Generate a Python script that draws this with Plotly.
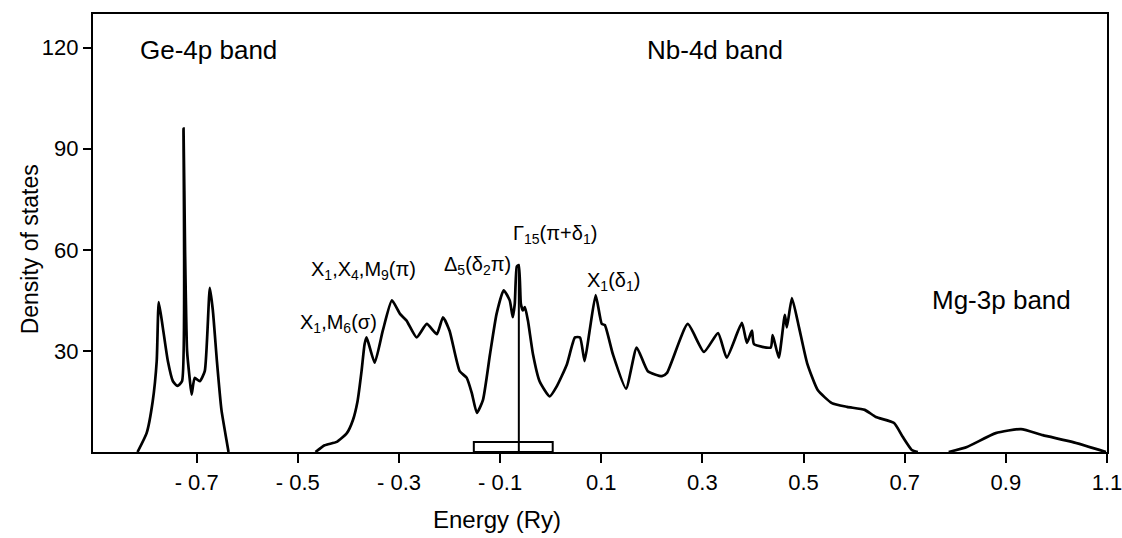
import plotly.graph_objects as go

# ---- data ----
ge_energy = [-0.817, -0.799, -0.787, -0.779, -0.775, -0.767, -0.757, -0.747, -0.738, -0.729,
             -0.726, -0.723, -0.719, -0.714, -0.710, -0.704, -0.694, -0.684, -0.674, -0.668,
             -0.660, -0.651, -0.641, -0.637]
ge_dos = [0, 5.6, 15, 27, 44.5, 37, 27, 21, 19.6, 21,
          96, 60, 30, 22, 17, 22, 21, 24, 48.7, 42,
          27, 12.5, 3.5, 0]

nb_energy = [-0.465, -0.447, -0.423, -0.403, -0.391, -0.382, -0.374, -0.368, -0.364, -0.348,
             -0.332, -0.314, -0.298, -0.285, -0.265, -0.245, -0.225, -0.213, -0.200, -0.180,
             -0.166, -0.156, -0.146, -0.134, -0.120, -0.107, -0.093, -0.081, -0.075, -0.071,
             -0.067, -0.063, -0.059, -0.055, -0.051, -0.045, -0.035, -0.022, -0.002, 0.012,
             0.032, 0.048, 0.058, 0.067, 0.077, 0.089, 0.101, 0.107, 0.123, 0.149,
             0.170, 0.192, 0.220, 0.230, 0.271, 0.303, 0.331, 0.348, 0.378, 0.388,
             0.398, 0.402, 0.435, 0.439, 0.451, 0.463, 0.467, 0.477, 0.491, 0.507,
             0.528, 0.556, 0.586, 0.621, 0.643, 0.679, 0.696, 0.714, 0.726]
nb_dos = [0, 2, 3, 5.6, 9.5, 15, 24, 32, 34, 26.5,
          36, 45, 41, 39, 34, 38, 35, 40, 36, 24,
          22, 17.5, 11.6, 15.4, 29, 41, 48, 45, 40, 44,
          55, 55.5, 44, 42, 43, 39, 29, 21, 16.5, 19.5,
          26, 34, 34, 27, 36, 46.6, 38, 37.7, 29, 18.8,
          31, 24, 22.5, 23.5, 38, 29.7, 35.3, 28, 38.3, 32.4,
          36, 32, 31, 34.7, 28, 40.7, 37, 45.7, 37, 26.4,
          18.4, 14.5, 13.4, 12.5, 10.4, 8.6, 4.5, 0.6, 0]

mg_energy = [0.787, 0.823, 0.880, 0.930, 0.973, 1.031, 1.098]
mg_dos = [0, 1.5, 5.6, 6.8, 5, 3, 0]

fermi_energy = [-0.063, -0.063]
fermi_dos = [0, 55]
box_energy = [-0.152, -0.152, 0.004, 0.004, -0.152]
box_dos = [0, 3, 3, 0, 0]

x_ticks = [-0.7, -0.5, -0.3, -0.1, 0.1, 0.3, 0.5, 0.7, 0.9, 1.1]
x_tick_labels = ["- 0.7", "- 0.5", "- 0.3", "- 0.1", "0.1", "0.3", "0.5", "0.7", "0.9", "1.1"]
y_ticks = [30, 60, 90, 120]

FONT = "Liberation Sans, Arial, sans-serif"

fig = go.Figure()
line = dict(color="black", width=2.7, shape="spline", smoothing=0.5)
for xs, ys in [(ge_energy, ge_dos), (nb_energy, nb_dos), (mg_energy, mg_dos)]:
    fig.add_trace(go.Scatter(x=xs, y=ys, mode="lines", line=line, hoverinfo="skip"))
fig.add_trace(go.Scatter(x=fermi_energy, y=fermi_dos, mode="lines",
                         line=dict(color="black", width=2)))
fig.add_trace(go.Scatter(x=box_energy, y=box_dos, mode="lines",
                         line=dict(color="black", width=2)))

labels = [
    ("Ge-4p band", -0.816, 119.4, 26, "left"),
    ("Nb-4d band", 0.325, 119.4, 26, "center"),
    ("Mg-3p band", 0.892, 45, 26, "center"),
    ("X<sub>1</sub>,X<sub>4</sub>,M<sub>9</sub>(π)", -0.370, 54, 20, "center"),
    ("X<sub>1</sub>,M<sub>6</sub>(σ)", -0.419, 38, 20, "center"),
    ("Δ<sub>5</sub>(δ<sub>2</sub>π)", -0.144, 55.5, 20, "center"),
    ("Γ<sub>15</sub>(π+δ<sub>1</sub>)", 0.008, 64.5, 20, "center"),
    ("X<sub>1</sub>(δ<sub>1</sub>)", 0.125, 50.5, 20, "center"),
]
for txt, x, y, sz, al in labels:
    fig.add_annotation(x=x, y=y, text=txt, showarrow=False, xanchor=al, yanchor="middle",
                       font=dict(family=FONT, size=sz, color="black"))

fig.add_annotation(x=-0.107, y=-0.155, xref="x", yref="paper", text="Energy (Ry)",
                   showarrow=False, xanchor="center", yanchor="middle",
                   font=dict(family=FONT, size=24, color="black"))
fig.add_annotation(x=-0.062, y=0.463, xref="paper", yref="paper", text="Density of states",
                   textangle=-90, showarrow=False, xanchor="center", yanchor="middle",
                   font=dict(family=FONT, size=23, color="black"))

fig.update_xaxes(range=[-0.905, 1.1], tickvals=x_ticks, ticktext=x_tick_labels,
                 ticks="outside", ticklen=9, tickwidth=2, tickcolor="black",
                 showline=True, linewidth=2.2, linecolor="black", mirror=True,
                 showgrid=False, zeroline=False, ticklabeloverflow="allow",
                 automargin=False,
                 tickfont=dict(family=FONT, size=22, color="black"))
fig.update_yaxes(range=[0, 130], tickvals=y_ticks,
                 ticks="outside", ticklen=8, tickwidth=2, tickcolor="black",
                 showline=True, linewidth=2.2, linecolor="black", mirror=True,
                 showgrid=False, zeroline=False, automargin=False,
                 tickfont=dict(family=FONT, size=22, color="black"))

fig.update_layout(width=1122, height=538, margin=dict(l=93, r=15, t=14, b=86),
                  paper_bgcolor="white", plot_bgcolor="white", showlegend=False)

fig.write_html("out.html")
